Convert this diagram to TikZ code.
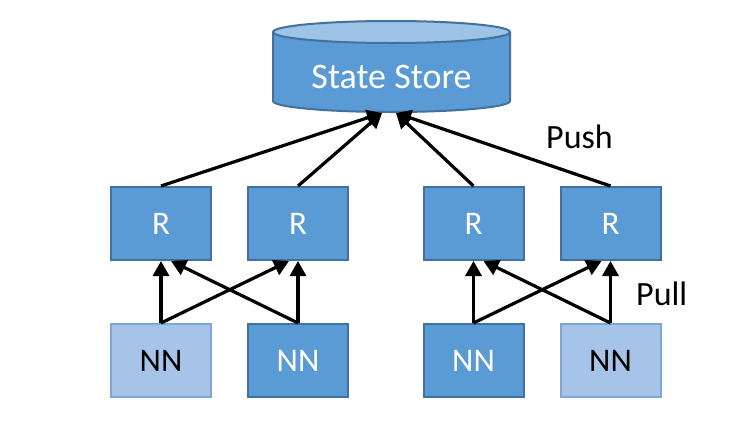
\documentclass[tikz,border=0pt]{standalone}
\usepackage{fontspec}
\setmainfont{Carlito}
\usetikzlibrary{arrows.meta}
\definecolor{dkfill}{HTML}{5B9BD5}
\definecolor{dkline}{HTML}{41719C}
\definecolor{ltfill}{HTML}{A6C4E8}
\definecolor{ltline}{HTML}{7EA6D8}
\definecolor{topfill}{HTML}{9DC3E6}
\tikzset{
  rbox/.style={draw=dkline, fill=dkfill, line width=2pt, minimum width=100pt, minimum height=73pt, inner sep=0pt, text=white, font=\fontsize{33}{33}\selectfont},
  nndark/.style={rbox},
  nnlight/.style={rbox, draw=ltline, fill=ltfill, text=black},
  arr/.style={line width=3.2pt, -{Triangle[width=16pt,length=15pt]}},
  lbl/.style={font=\fontsize{34}{34}\selectfont, text=black, inner sep=0pt}
}
\begin{document}
\begin{tikzpicture}[x=1pt,y=-1pt]
\useasboundingbox (0,0) rectangle (740,426);
\fill[white] (0,0) rectangle (740,426);
% cylinder
\fill[dkfill] (273,32) -- (273,101) arc[start angle=180, end angle=0, x radius=118.5, y radius=11] -- (510,32) -- cycle;
\draw[dkline, line width=2pt] (273,32) -- (273,101) arc[start angle=180, end angle=0, x radius=118.5, y radius=11] -- (510,32);
\draw[dkline, fill=topfill, line width=2pt] (391.5,32) ellipse[x radius=118.5, y radius=11];
\node[inner sep=0pt, minimum width=237pt, minimum height=90pt] (ss) at (391.5,67) {};
\node[text=white, font=\fontsize{36}{36}\selectfont] (sst) at (391.5,77) {State Store};
\coordinate (ssl) at (382,113);
\coordinate (ssr) at (396,113);
% R boxes
\node[rbox] (r1) at (161,223.5) {R};
\node[rbox] (r2) at (298,223.5) {R};
\node[rbox] (r3) at (473.5,223.5) {R};
\node[rbox] (r4) at (610.5,223.5) {R};
% NN boxes
\node[nnlight] (n1) at (161,360.5) {NN};
\node[nndark] (n2) at (298,360.5) {NN};
\node[nndark] (n3) at (473.5,360.5) {NN};
\node[nnlight] (n4) at (610.5,360.5) {NN};
% push
\draw[arr] (r1.north) -- (ssl);
\draw[arr] (r2.north) -- (ssl);
\draw[arr] (r3.north) -- (ssr);
\draw[arr] (r4.north) -- (ssr);
% pull
\draw[arr] (n1.north) -- (r1.south);
\draw[arr] (n1.north) -- ([xshift=-9pt]r2.south);
\draw[arr] (n2.north) -- ([xshift=10pt]r1.south);
\draw[arr] (n2.north) -- (r2.south);
\draw[arr] (n3.north) -- (r3.south);
\draw[arr] (n3.north) -- ([xshift=-9pt]r4.south);
\draw[arr] (n4.north) -- ([xshift=10pt]r3.south);
\draw[arr] (n4.north) -- (r4.south);
% labels
\node[lbl, anchor=west] (push) at (546,137) {Push};
\node[lbl, anchor=west] (pull) at (636,294) {Pull};
\end{tikzpicture}
\end{document}
